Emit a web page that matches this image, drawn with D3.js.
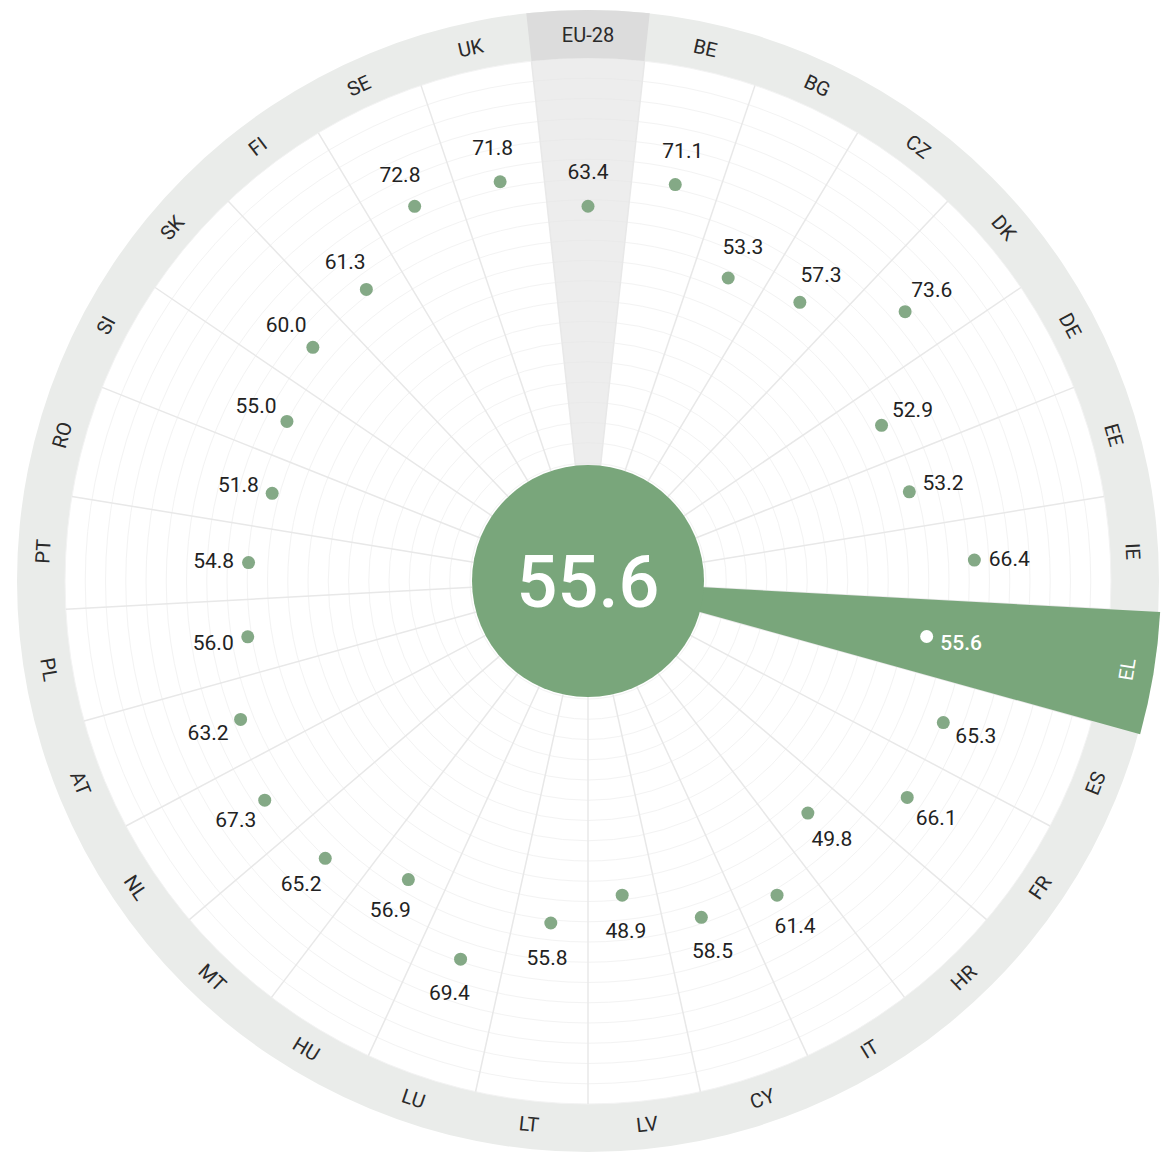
<!DOCTYPE html>
<html><head><meta charset="utf-8">
<script src="https://cdn.jsdelivr.net/npm/d3@7"></script>
<style>body{margin:0;background:#fff} svg{display:block} text{font-family:Roboto,"Noto Sans",sans-serif}</style>
</head><body><svg id="c" width="1165" height="1153"></svg>
<script>
const categories = ["EU-28","BE","BG","CZ","DK","DE","EE","IE","EL","ES","FR","HR","IT","CY","LV","LT","LU","HU","MT","NL","AT","PL","PT","RO","SI","SK","FI","SE","UK"];
const values = [63.4,71.1,53.3,57.3,73.6,52.9,53.2,66.4,55.6,65.3,66.1,49.8,61.4,58.5,48.9,55.8,69.4,56.9,65.2,67.3,63.2,56.0,54.8,51.8,55.0,60.0,61.3,72.8,71.8];
const highlighted = "EL";
const reference = "EU-28";
const gridTicks = d3.range(0, 101, 5);

const W = 1165, H = 1153, cx = 588, cy = 581;
const innerR = 116, scaleMax = 523, ringOuter = 571, labelR = 546;
const green = "#79a67b", dotGreen = "#84a986";
const svg = d3.select("#c");
const g = svg.append("g").attr("transform", `translate(${cx},${cy})`);

const angle = d3.scaleBand().domain(categories).range([0, 2 * Math.PI]);
const step = angle.bandwidth();
const aMid = c => angle(c);
const r = d3.scaleLinear().domain([0, 100]).range([innerR + 2, scaleMax]);
const data = categories.map((c, i) => ({c, v: values[i]}));

const arc = d3.arc();
g.append("path").attr("d", arc({innerRadius: scaleMax, outerRadius: ringOuter, startAngle: 0, endAngle: 2 * Math.PI})).attr("fill", "#eaecea");
g.selectAll("circle.grid").data(gridTicks).join("circle").attr("class", "grid")
  .attr("r", d => r(d)).attr("fill", "none").attr("stroke", "#f3f3f3").attr("stroke-width", 1);
g.append("path").attr("d", arc({innerRadius: 0, outerRadius: scaleMax, startAngle: aMid(reference) - step / 2, endAngle: aMid(reference) + step / 2})).attr("fill", "#e6e6e6").attr("opacity", 0.7);
g.append("path").attr("d", arc({innerRadius: scaleMax, outerRadius: ringOuter, startAngle: aMid(reference) - step / 2, endAngle: aMid(reference) + step / 2})).attr("fill", "#dcdcdc");
g.selectAll("line.sep").data(categories).join("line").attr("class", "sep")
  .attr("x1", d => innerR * Math.sin(aMid(d) - step / 2)).attr("y1", d => -innerR * Math.cos(aMid(d) - step / 2))
  .attr("x2", d => scaleMax * Math.sin(aMid(d) - step / 2)).attr("y2", d => -scaleMax * Math.cos(aMid(d) - step / 2))
  .attr("stroke", "#e8e8e8").attr("stroke-width", 1.5);
g.append("path").attr("d", arc({innerRadius: 0, outerRadius: ringOuter + 2, startAngle: aMid(highlighted) - step / 2, endAngle: aMid(highlighted) + step / 2})).attr("fill", green);
g.append("circle").attr("r", innerR).attr("fill", green);
g.append("text").attr("x", 0).attr("y", 0).attr("dy", "0.36em").attr("text-anchor", "middle")
  .attr("fill", "#fff").attr("font-size", 72).attr("font-weight", 500)
  .text(values[categories.indexOf(highlighted)].toFixed(1));

g.selectAll("text.cat").data(categories).join("text").attr("class", "cat")
  .attr("transform", d => {
    const a = aMid(d), deg = a * 180 / Math.PI;
    const rot = (deg > 90 && deg < 270) ? deg - 180 : deg;
    return `translate(${labelR * Math.sin(a)},${-labelR * Math.cos(a)}) rotate(${rot})`;
  })
  .attr("text-anchor", "middle").attr("dy", "0.36em").attr("font-size", 20)
  .attr("fill", d => d === highlighted ? "#fff" : "#2a2a2a").text(d => d);

g.selectAll("circle.dot").data(data).join("circle").attr("class", "dot")
  .attr("cx", d => r(d.v) * Math.sin(aMid(d.c))).attr("cy", d => -r(d.v) * Math.cos(aMid(d.c)))
  .attr("r", 6.5).attr("fill", d => d.c === highlighted ? "#fff" : dotGreen);
g.selectAll("text.val").data(data).join("text").attr("class", "val")
  .attr("x", d => (r(d.v) + 35) * Math.sin(aMid(d.c))).attr("y", d => -(r(d.v) + 35) * Math.cos(aMid(d.c)))
  .attr("dy", "0.36em").attr("text-anchor", "middle").attr("font-size", 21)
  .attr("font-weight", d => d.c === highlighted ? 500 : 400)
  .attr("fill", d => d.c === highlighted ? "#fff" : "#222").text(d => d.v.toFixed(1));
</script></body></html>
